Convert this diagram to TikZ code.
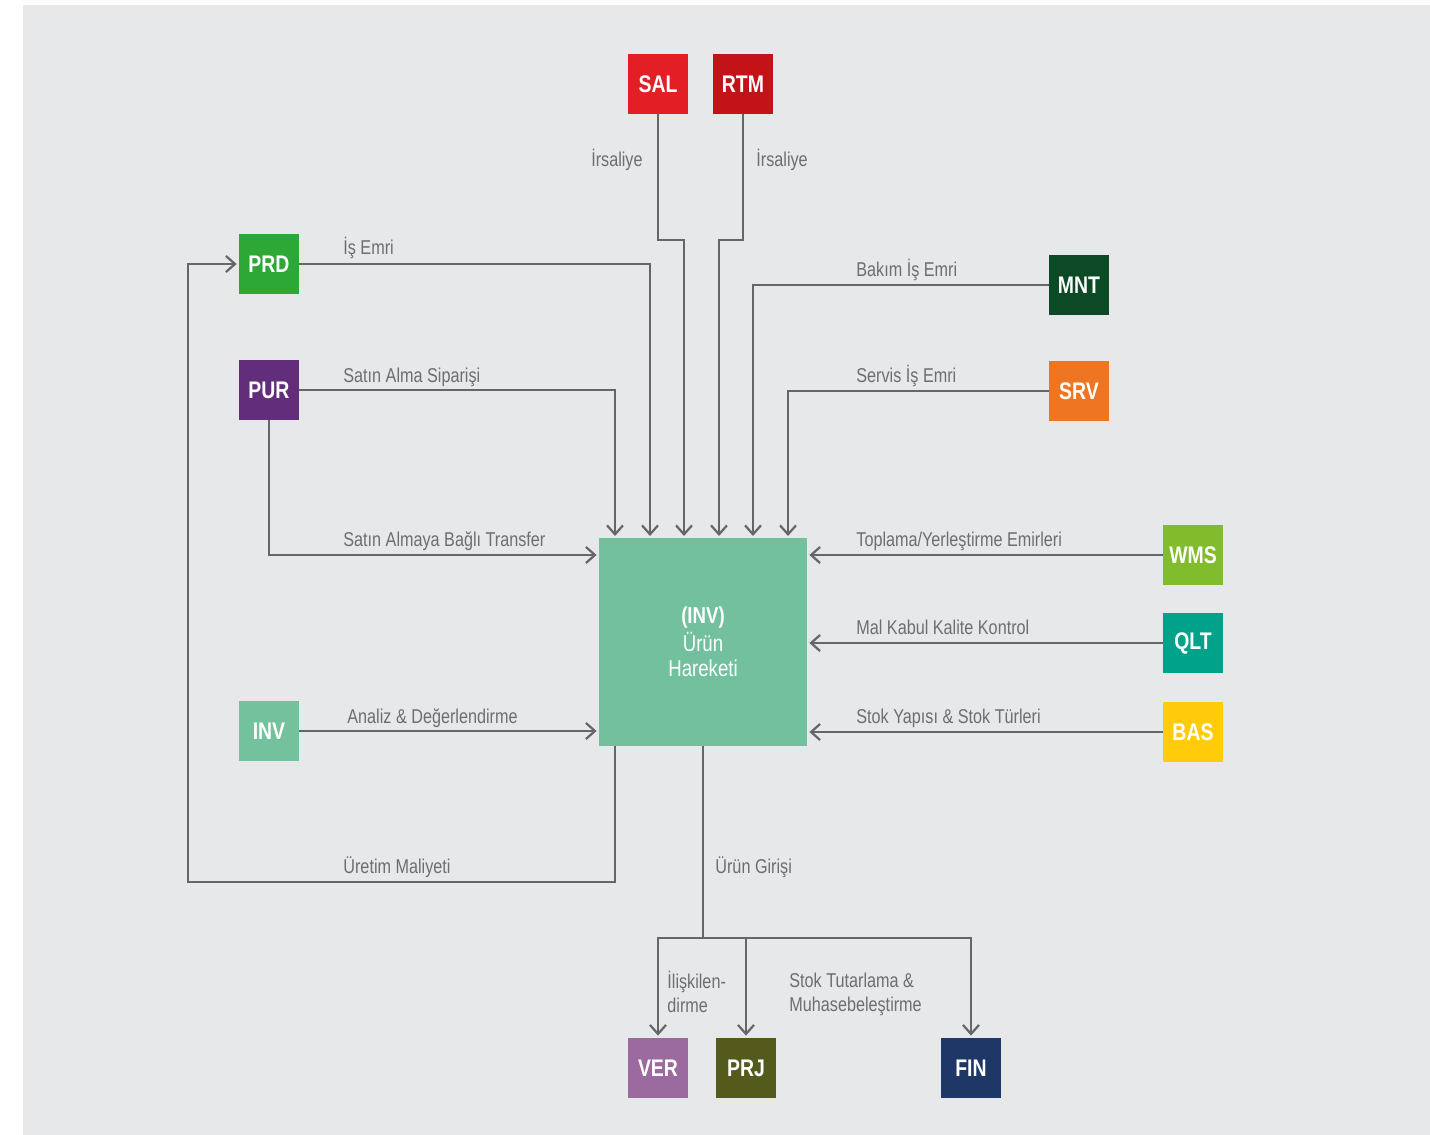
\documentclass[tikz,border=0pt]{standalone}
\usepackage{fontspec}
\setmainfont{Liberation Sans}[FakeStretch=0.81]
\usetikzlibrary{arrows.meta}
\definecolor{bg}{HTML}{E7E8EA}
\definecolor{lc}{HTML}{666666}
\definecolor{tc}{HTML}{6D6E70}
\definecolor{cSAL}{HTML}{E31E24}
\definecolor{cRTM}{HTML}{C41318}
\definecolor{cPRD}{HTML}{2DA836}
\definecolor{cPUR}{HTML}{622D7A}
\definecolor{cMNT}{HTML}{0B4A25}
\definecolor{cSRV}{HTML}{EE7623}
\definecolor{cWMS}{HTML}{80BC2B}
\definecolor{cQLT}{HTML}{00A38A}
\definecolor{cBAS}{HTML}{FFCB0A}
\definecolor{cINV}{HTML}{74C19D}
\definecolor{cCEN}{HTML}{72C09E}
\definecolor{cVER}{HTML}{9B6A9F}
\definecolor{cPRJ}{HTML}{535A1C}
\definecolor{cFIN}{HTML}{1E3767}
\begin{document}
\begin{tikzpicture}[x=0.5pt,y=-0.5pt,
  box/.style={minimum size=30pt, inner sep=0pt, text=white, font=\fontsize{12}{14}\selectfont\bfseries},
  arr/.style={draw=lc, line width=1.1pt, -{Straight Barb[length=4.5pt,width=8pt]}, shorten >=1pt},
  ln/.style={draw=lc, line width=1.1pt},
  lbl/.style={text=tc, font=\fontsize{10}{11.8}\selectfont, inner sep=0pt, anchor=base west, align=left}]
\useasboundingbox (0,0) rectangle (1430,1135);
\fill[bg] (23,5) rectangle (1430,1135);

% nodes
\node[box, fill=cSAL] (SAL) at (658,84) {SAL};
\node[box, fill=cRTM] (RTM) at (743,84) {RTM};
\node[box, fill=cPRD] (PRD) at (269,264) {PRD};
\node[box, fill=cPUR] (PUR) at (269,390) {PUR};
\node[box, fill=cMNT] (MNT) at (1079,285) {MNT};
\node[box, fill=cSRV] (SRV) at (1079,391) {SRV};
\node[box, fill=cWMS] (WMS) at (1193,555) {WMS};
\node[box, fill=cQLT] (QLT) at (1193,643) {QLT};
\node[box, fill=cBAS] (BAS) at (1193,732) {BAS};
\node[box, fill=cINV] (INV) at (269,731) {INV};
\node[box, fill=cVER] (VER) at (658,1068) {VER};
\node[box, fill=cPRJ] (PRJ) at (746,1068) {PRJ};
\node[box, fill=cFIN] (FIN) at (971,1068) {FIN};
\node[minimum size=104pt, inner sep=0pt, fill=cCEN, text=white, align=center,
      font=\fontsize{11.5}{12.4}\selectfont] (C) at (703,642)
  {{\bfseries (INV)}\\[1.5pt]Ürün\\Hareketi};

% entry points on the central box
\coordinate (t1) at (615,538);
\coordinate (t2) at (650,538);
\coordinate (t3) at (684,538);
\coordinate (t4) at (719,538);
\coordinate (t5) at (753,538);
\coordinate (t6) at (788,538);
\coordinate (o1) at (615,746);
\coordinate (o2) at (703,746);
\coordinate (j) at (703,938);

% connectors
\draw[arr] (PUR.east) -| (t1);
\draw[arr] (PRD.east) -| (t2);
\draw[arr] (SAL.south) |- (684,240) -- (t3);
\draw[arr] (RTM.south) |- (719,240) -- (t4);
\draw[arr] (MNT.west) -| (t5);
\draw[arr] (SRV.west) -| (t6);
\draw[arr] (WMS.west) -- (WMS.west -| C.east);
\draw[arr] (QLT.west) -- (QLT.west -| C.east);
\draw[arr] (BAS.west) -- (BAS.west -| C.east);
\draw[arr] (PUR.south) |- (C.west |- WMS.west);
\draw[arr] (INV.east) -- (INV.east -| C.west);
\draw[arr] (o1) |- (188,882) |- (PRD.west);
\draw[ln] (o2) -- (j);
\draw[arr] (j) -| (VER.north);
\draw[arr] (j) -| (PRJ.north);
\draw[arr] (j) -| (FIN.north);

% labels
\node[lbl, anchor=base east] (a1) at (643,166) {İrsaliye};
\node[lbl] (a2) at (756,166) {İrsaliye};
\node[lbl] (a3) at (343,254) {İş Emri};
\node[lbl] (a4) at (343,382) {Satın Alma Siparişi};
\node[lbl] (a5) at (343,546) {Satın Almaya Bağlı Transfer};
\node[lbl] (a6) at (856,276) {Bakım İş Emri};
\node[lbl] (a7) at (856,382) {Servis İş Emri};
\node[lbl] (a8) at (856,546) {Toplama/Yerleştirme Emirleri};
\node[lbl] (a9) at (856,634) {Mal Kabul Kalite Kontrol};
\node[lbl] (a10) at (856,723) {Stok Yapısı \& Stok Türleri};
\node[lbl] (a11) at (347,723) {Analiz \& Değerlendirme};
\node[lbl] (a12) at (343,873) {Üretim Maliyeti};
\node[lbl] (a13) at (715,873) {Ürün Girişi};
\node[lbl] (a14) at (667,1012) {İlişkilen-\\dirme};
\node[lbl] (a15) at (789,1011) {Stok Tutarlama \&\\Muhasebeleştirme};
\end{tikzpicture}
\end{document}
